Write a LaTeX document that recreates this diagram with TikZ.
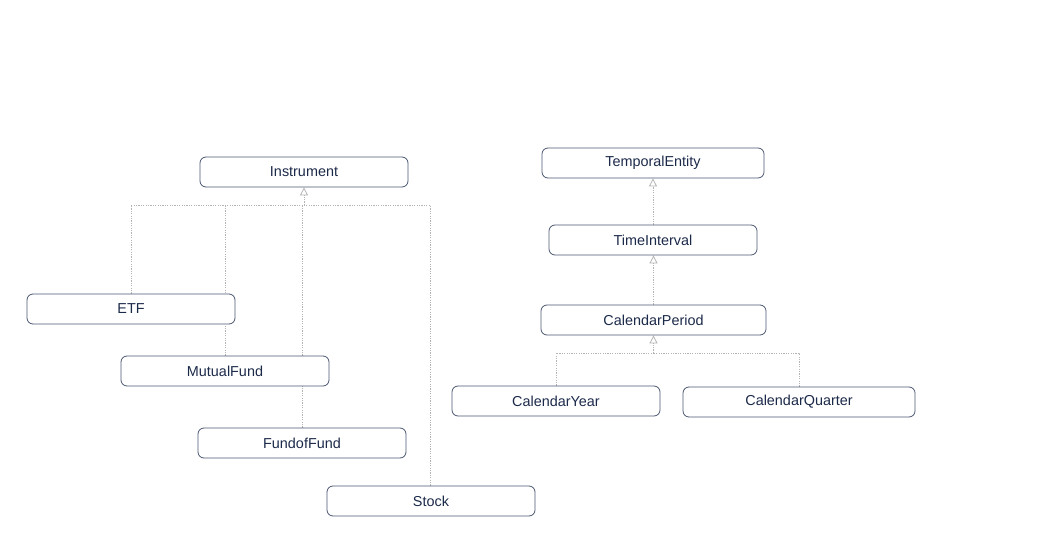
\documentclass[tikz,border=0pt]{standalone}
\usepackage{fontspec}
\setmainfont{Liberation Sans}
\usetikzlibrary{arrows.meta}
\pgfdeclarelayer{bg}\pgfsetlayers{bg,main}
\definecolor{boxline}{HTML}{4A5670}
\definecolor{boxtext}{HTML}{1C2A4A}
\definecolor{conn}{HTML}{B4B4B4}
\begin{document}
\begin{tikzpicture}[x=0.75pt,y=-0.75pt,
  cls/.style={draw=boxline,line width=0.6pt,fill=white,rounded corners=4.5pt,
    minimum height=22.5pt,inner sep=0pt,text=boxtext,
    font=\fontsize{10.8}{12}\selectfont},
  link/.style={draw=conn,line width=0.55pt,dash pattern=on 0.9pt off 0.9pt},
  gen/.style={link,-{Triangle[open,length=6pt,width=6pt,line width=0.6pt]}}]
\useasboundingbox (0,0) rectangle (1048,534);
% nodes
\node[cls,minimum width=156pt] (instr) at (304,172) {Instrument};
\node[cls,minimum width=156pt] (etf) at (131,309) {ETF};
\node[cls,minimum width=156pt] (mutual) at (225,371) {MutualFund};
\node[cls,minimum width=156pt] (fof) at (302,443) {FundofFund};
\node[cls,minimum width=156pt] (stock) at (431,501) {Stock};
\node[cls,minimum width=166.5pt] (temporal) at (653,163) {TemporalEntity};
\node[cls,minimum width=156pt] (interval) at (653,240) {TimeInterval};
\node[cls,minimum width=168.75pt] (period) at (653.5,320) {CalendarPeriod};
\node[cls,minimum width=156pt] (year) at (556,401) {CalendarYear};
\node[cls,minimum width=174pt] (quarter) at (799,402) {CalendarQuarter};
% junctions
\coordinate (ij) at (304,205);
\coordinate (pj) at (653.5,353);
% connectors (behind boxes)
\begin{pgfonlayer}{bg}
\draw[link] (etf.north -| 131,0) |- (ij);
\draw[link] (mutual.north -| 225,0) -- (225,205);
\draw[link] (fof.north -| 302,0) -- (302,205);
\draw[link] (stock.north -| 430,0) |- (ij);
\draw[gen] (ij) -- (instr.south);
\draw[gen] (interval.north) -- (temporal.south);
\draw[gen] (period.north) -- (period.north |- interval.south);
\draw[link] (year.north) |- (pj);
\draw[link] (quarter.north) |- (pj);
\draw[gen] (pj) -- (period.south);
\end{pgfonlayer}
\end{tikzpicture}
\end{document}
